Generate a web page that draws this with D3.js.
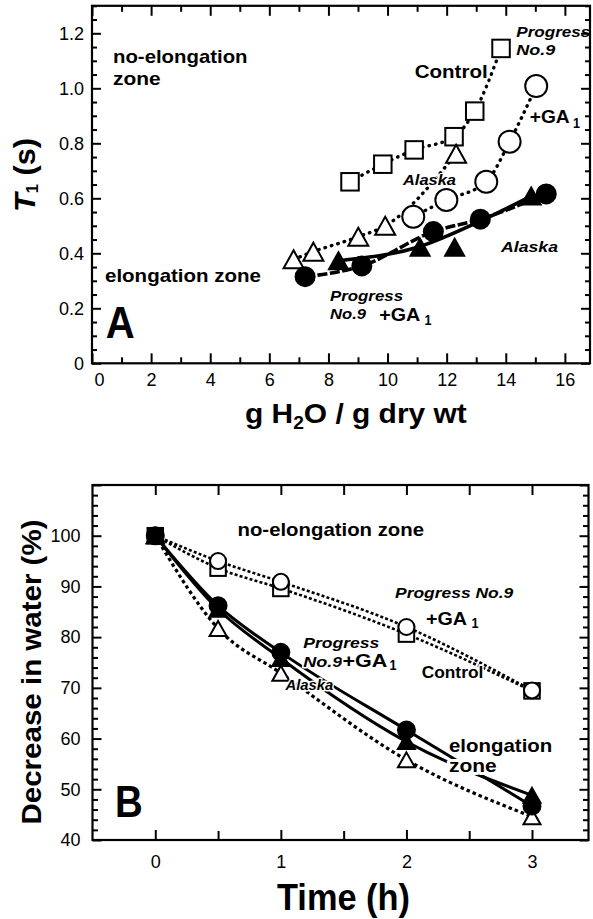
<!DOCTYPE html>
<html><head><meta charset="utf-8">
<script src="https://cdn.jsdelivr.net/npm/d3@7"></script>
<style>
html,body{margin:0;padding:0;background:#fff;}
svg{display:block;}
text{font-family:"Liberation Sans", Arial, Helvetica, sans-serif;}
</style></head><body>
<svg id="chart" width="593" height="919"></svg>
<script>
// ---------- Panel A data: T1 (s) vs g H2O / g dry wt ----------
const a_ctrl_x   = [8.73, 9.84, 10.9, 12.25, 12.95, 13.84];      // Progress No.9 control (open squares)
const a_ctrl_y   = [0.660, 0.724, 0.776, 0.824, 0.917, 1.145];
const a_ga_x     = [10.87, 11.99, 13.34, 14.13, 15.03];           // Progress No.9 +GA1 (open circles)
const a_ga_y     = [0.533, 0.594, 0.660, 0.806, 1.008];
const a_alaska_x = [6.82, 7.49, 9.01, 9.92, 12.32];               // Alaska (open triangles)
const a_alaska_y = [0.378, 0.406, 0.460, 0.500, 0.762];
const a_gaE_x    = [7.21, 9.13, 11.55, 13.14, 15.37];             // elongation zone, Progress No.9 +GA1 (filled circles)
const a_gaE_y    = [0.315, 0.354, 0.479, 0.524, 0.616];
const a_alaskaE_x = [8.34, 11.10, 12.27, 14.86];                  // elongation zone, Alaska (filled triangles)
const a_alaskaE_y = [0.373, 0.422, 0.422, 0.608];
const a_alaskaEfit_x = [8.34, 11.10, 13.10, 14.86];               // fitted curve through filled triangles
const a_alaskaEfit_y = [0.373, 0.425, 0.515, 0.608];
const a_xMajor = [0, 2, 4, 6, 8, 10, 12, 14, 16];
const a_yMajor = [0, 0.2, 0.4, 0.6, 0.8, 1.0, 1.2];

// ---------- Panel B data: Decrease in water (%) vs Time (h) ----------
const b_time     = [0, 0.5, 1, 2, 3];
const b_ctrl     = [100, 93.6, 89.6, 80.6, 69.4];   // Control (open squares)
const b_ga       = [100, 95.0, 90.9, 82.0, 69.5];   // Progress No.9 +GA1 (open circles)
const b_gaE      = [100, 86.2, 77.0, 61.7, 46.7];   // elongation, Progress No.9+GA1 (filled circles)
const b_alaskaE  = [100, 85.5, 75.8, 59.4, 48.8];   // elongation, Alaska (filled triangles)
const b_alaska   = [100, 81.7, 72.9, 55.8, 44.6];   // Alaska (open triangles)
const b_xMajor = [0, 1, 2, 3];
const b_yMajor = [40, 50, 60, 70, 80, 90, 100];

const svg = d3.select("#chart");
const zip = (xs, ys) => xs.map((x, i) => [x, ys[i]]);

// ---------- scales ----------
const xA = d3.scaleLinear().domain([0, 16.85]).range([92, 590]);
const yA = d3.scaleLinear().domain([0, 1.3]).range([363.3, 5.8]);
const xB = d3.scaleLinear().domain([-0.5, 3.45]).range([92.5, 588.5]);
const yB = d3.scaleLinear().domain([40, 110]).range([840, 485]);

// ---------- helpers ----------
function frame(xs, ys) {
  const [x0, x1] = xs.range(), [y0, y1] = ys.range();
  svg.append("rect").attr("x", x0).attr("y", y1).attr("width", x1 - x0).attr("height", y0 - y1)
    .attr("fill", "none").attr("stroke", "#000").attr("stroke-width", 2.2);
}
function ticks(axisFn, scale, vals, size, transform, labels, pad, fmt) {
  const ax = axisFn(scale).tickValues(vals).tickSize(-size).tickPadding(pad || 0)
    .tickFormat(labels ? (fmt || (d => d)) : "");
  const g = svg.append("g").attr("transform", transform).call(ax);
  g.select(".domain").remove();
  g.selectAll(".tick line").attr("stroke", "#000").attr("stroke-width", 2);
  g.selectAll(".tick text").attr("font-size", 18).attr("fill", "#000")
    .attr("font-family", '"Liberation Sans", Arial, sans-serif');
  return g;
}
function label(parts, o) {
  const t = svg.append("text").attr("x", o.x).attr("y", o.y)
    .attr("font-weight", "bold").attr("font-size", o.size).attr("fill", "#000");
  if (o.italic) t.attr("font-style", "italic");
  if (o.anchor) t.attr("text-anchor", o.anchor);
  if (o.rotate) t.attr("transform", `rotate(-90 ${o.x} ${o.y})`);
  if (o.halo) t.attr("stroke", "#fff").attr("stroke-width", o.halo)
    .attr("paint-order", "stroke").attr("stroke-linejoin", "round");
  parts.forEach(p => {
    if (typeof p === "string") p = { t: p };
    const s = t.append("tspan").text(p.t);
    if (p.size) s.attr("font-size", p.size);
    if (p.dy) s.attr("dy", p.dy);
    if (p.italic !== undefined) s.attr("font-style", p.italic ? "italic" : "normal");
  });
  if (o.w) t.attr("textLength", o.w).attr("lengthAdjust", "spacingAndGlyphs");
  return t;
}
function curve(xs, ys, pts, style) {
  const line = d3.line().x(d => xs(d[0])).y(d => ys(d[1])).curve(d3.curveMonotoneX);
  const p = svg.append("path").attr("d", line(pts)).attr("fill", "none").attr("stroke", "#000");
  Object.entries(style).forEach(([k, v]) => p.attr(k, v));
}
function squares(xs, ys, pts, s) {
  svg.append("g").selectAll("rect").data(pts).join("rect")
    .attr("x", d => xs(d[0]) - s / 2).attr("y", d => ys(d[1]) - s / 2)
    .attr("width", s).attr("height", s)
    .attr("fill", "#fff").attr("stroke", "#000").attr("stroke-width", 2);
}
function circles(xs, ys, pts, r, filled) {
  svg.append("g").selectAll("circle").data(pts).join("circle")
    .attr("cx", d => xs(d[0])).attr("cy", d => ys(d[1])).attr("r", r)
    .attr("fill", filled ? "#000" : "#fff").attr("stroke", "#000").attr("stroke-width", 2);
}
function triangles(xs, ys, pts, w, h, filled) {
  svg.append("g").selectAll("path").data(pts).join("path")
    .attr("d", `M0,${-h / 2}L${w / 2},${h / 2}L${-w / 2},${h / 2}Z`)
    .attr("transform", d => `translate(${xs(d[0])},${ys(d[1])})`)
    .attr("fill", filled ? "#000" : "#fff").attr("stroke", "#000").attr("stroke-width", 2)
    .attr("stroke-linejoin", "miter");
}

// ================= PANEL A =================
frame(xA, yA);
const aXMinor = d3.range(1, 16, 2);
const aYMinor = d3.range(0, 1.3001, 0.05).filter(v => Math.abs(v * 5 - Math.round(v * 5)) > 1e-6);
const gAx = ticks(d3.axisBottom, xA, a_xMajor, 10, `translate(0,${yA(0)})`, true, 10);
gAx.selectAll(".tick text").filter(d => d === 0).attr("dx", 7);
ticks(d3.axisBottom, xA, aXMinor, 6, `translate(0,${yA(0)})`, false);
ticks(d3.axisTop, xA, a_xMajor, 10, `translate(0,${yA(1.3)})`, false);
ticks(d3.axisTop, xA, aXMinor, 6, `translate(0,${yA(1.3)})`, false);
ticks(d3.axisLeft, yA, a_yMajor, 9, `translate(${xA(0)},0)`, true, 8, d => d === 0 ? "0" : d3.format(".1f")(d));
ticks(d3.axisLeft, yA, aYMinor, 5, `translate(${xA(0)},0)`, false);
ticks(d3.axisRight, yA, a_yMajor, 9, `translate(${xA(16.85)},0)`, false);
ticks(d3.axisRight, yA, aYMinor, 5, `translate(${xA(16.85)},0)`, false);

const dotsA = { "stroke-width": 3.4, "stroke-dasharray": "0.5,6.2", "stroke-linecap": "round" };
curve(xA, yA, zip(a_ctrl_x, a_ctrl_y), dotsA);
curve(xA, yA, zip(a_ga_x, a_ga_y), dotsA);
curve(xA, yA, zip(a_alaska_x, a_alaska_y), dotsA);
curve(xA, yA, zip(a_gaE_x, a_gaE_y), { "stroke-width": 3.6, "stroke-dasharray": "10,2.5" });
curve(xA, yA, zip(a_alaskaEfit_x, a_alaskaEfit_y), { "stroke-width": 3.6 });

squares(xA, yA, zip(a_ctrl_x, a_ctrl_y), 17.5);
circles(xA, yA, zip(a_ga_x, a_ga_y), 11, false);
triangles(xA, yA, zip(a_alaska_x, a_alaska_y), 20, 18, false);
triangles(xA, yA, zip(a_alaskaE_x, a_alaskaE_y), 19, 17, true);
circles(xA, yA, zip(a_gaE_x, a_gaE_y), 9.5, true);

// annotations A
label(["no-elongation"], { x: 113, y: 63, size: 18.5, w: 134.5 });
label(["zone"], { x: 113, y: 85, size: 18.5, w: 47.6 });
label(["elongation zone"], { x: 105, y: 282.3, size: 18.5, w: 156 });
label(["A"], { x: 105.7, y: 338, size: 44, w: 29 });
label(["Control"], { x: 414.7, y: 78.3, size: 17.5, w: 73, halo: 3 });
label(["Progress"], { x: 516.3, y: 36.7, size: 15.5, w: 74, italic: true });
label(["No.9"], { x: 516.3, y: 55, size: 15.5, w: 39, italic: true });
label(["+GA"], { x: 529.7, y: 123.3, size: 19, w: 40, halo: 3 });
label(["1"], { x: 573, y: 128.3, size: 14, w: 7 });
label(["Alaska"], { x: 403, y: 185, size: 15.5, w: 53, italic: true, halo: 2 });
label(["Alaska"], { x: 501, y: 251.7, size: 15.5, w: 57, italic: true });
label(["Progress"], { x: 330, y: 301, size: 15.5, w: 73, italic: true });
label(["No.9"], { x: 330, y: 319.3, size: 15.5, w: 36, italic: true });
label(["+GA"], { x: 379.3, y: 321, size: 19, w: 41 });
label(["1"], { x: 424.5, y: 325, size: 14, w: 7 });

// axis titles A
label(["g H", { t: "2", size: 18, dy: 6 }, { t: "O / g dry wt", dy: -6 }], { x: 245, y: 422.7, size: 28, w: 221.7 });
label([{ t: "T", italic: true }, { t: "1", size: 16, dy: 3 }, { t: " (s)", dy: -3 }],
      { x: 35, y: 175, size: 30, anchor: "middle", rotate: true, w: 74 });

// ================= PANEL B =================
frame(xB, yB);
const bXTicks = d3.range(0, 3.001, 0.5);
const bYMinor = d3.range(40, 110.001, 2).filter(v => v % 10 !== 0);
ticks(d3.axisBottom, xB, b_xMajor, 10, `translate(0,${yB(40)})`, true, 15.5);
ticks(d3.axisBottom, xB, bXTicks.filter(v => v % 1 !== 0), 9, `translate(0,${yB(40)})`, false);
ticks(d3.axisTop, xB, bXTicks, 10, `translate(0,${yB(110)})`, false);
ticks(d3.axisLeft, yB, b_yMajor, 9, `translate(${xB(-0.5)},0)`, true, 12);
ticks(d3.axisLeft, yB, [110], 9, `translate(${xB(-0.5)},0)`, false);
ticks(d3.axisLeft, yB, bYMinor, 5.5, `translate(${xB(-0.5)},0)`, false);
ticks(d3.axisRight, yB, b_yMajor.concat([110]), 9, `translate(${xB(3.45)},0)`, false);
ticks(d3.axisRight, yB, bYMinor, 5.5, `translate(${xB(3.45)},0)`, false);

const dotsB2 = { "stroke-width": 2.6, "stroke-dasharray": "3,2.2" };
curve(xB, yB, zip(b_time, b_ctrl), dotsB2);
curve(xB, yB, zip(b_time, b_ga), dotsB2);
curve(xB, yB, zip(b_time, b_alaska), { "stroke-width": 3.2, "stroke-dasharray": "3.5,3" });
curve(xB, yB, zip(b_time, b_gaE), { "stroke-width": 3 });
curve(xB, yB, zip(b_time, b_alaskaE), { "stroke-width": 3 });

triangles(xB, yB, zip(b_time, b_alaska), 17, 15, false);
squares(xB, yB, zip(b_time, b_ctrl), 15.5);
circles(xB, yB, zip(b_time, b_ga), 8, false);
triangles(xB, yB, zip(b_time, b_alaskaE), 17, 15, true);
circles(xB, yB, zip(b_time, b_gaE), 8.5, true);

// annotations B
label(["no-elongation zone"], { x: 237.5, y: 536, size: 18.5, w: 186.5 });
label(["Progress No.9"], { x: 395, y: 598.3, size: 15.5, w: 118.3, italic: true });
label(["+GA"], { x: 426, y: 625, size: 18.5, w: 41 });
label(["1"], { x: 471.5, y: 628, size: 14, w: 7 });
label(["Progress"], { x: 303.3, y: 648.3, size: 15.5, w: 76, italic: true, halo: 3 });
label([{ t: "No.9", italic: true, size: 15.5 }, { t: "+GA", size: 18.5 }],
      { x: 303.3, y: 666.7, size: 18.5, w: 84, halo: 3 });
label(["1"], { x: 389.5, y: 669.5, size: 14, w: 7, halo: 3 });
label(["Control"], { x: 421.7, y: 678.3, size: 16.5, w: 61.6, halo: 3 });
label(["Alaska"], { x: 285.5, y: 690, size: 15.5, w: 47.8, italic: true, halo: 3 });
label(["elongation"], { x: 449, y: 751.7, size: 18.5, w: 103.3, halo: 6 });
label(["zone"], { x: 449, y: 772.3, size: 18.5, w: 47.7, halo: 6 });
label(["B"], { x: 115, y: 816.7, size: 44, w: 27.7 });

// axis titles B
label(["Time (h)"], { x: 277, y: 910, size: 36, w: 133 });
label(["Decrease in water (%)"], { x: 41, y: 672, size: 28, anchor: "middle", rotate: true, w: 305 });
</script>
</body></html>
